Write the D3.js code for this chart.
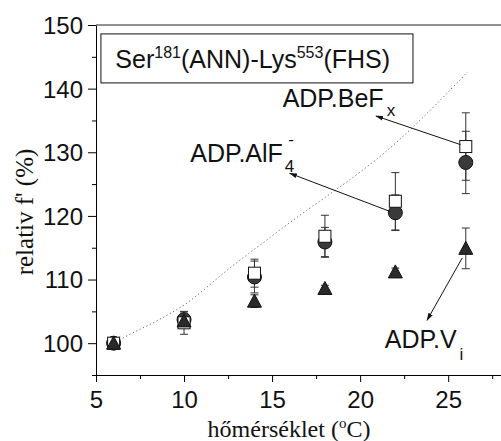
<!DOCTYPE html>
<html>
<head>
<meta charset="utf-8">
<script src="https://cdn.jsdelivr.net/npm/d3@7"></script>
<style>
  body { margin: 0; background: #fff; }
  svg { display: block; }
  .tick text { font-family: "Liberation Sans", Arial, sans-serif; }
</style>
</head>
<body>
<div id="chart"></div>
<script>
// data
var temps = [6, 10, 14, 18, 22, 26];
var befx = [100, 103.2, 111.0, 116.8, 122.3, 130.9];      // open squares
var befxErr = [0.5, 1.8, 2.2, 3.3, 4.5, 5.3];
var alf4 = [100, 103.7, 110.4, 115.9, 120.5, 128.4];      // filled circles
var alf4Err = [0.6, 1.2, 2.5, 2.3, 2.8, 4.9];
var vi = [100, 103.5, 106.6, 108.6, 111.2, 114.9];        // filled triangles
var viErr = [0.4, 0.8, 1.0, 0.5, 0.6, 3.2];
// dotted guide curve
var curveX = [5.6, 6.4, 8.45, 10, 12.6, 15.45, 22.2, 26.1];
var curveY = [99.2, 100.6, 103.5, 106, 111.8, 117.8, 131.9, 142.6];
var xTicks = [5, 10, 15, 20, 25];
var yTicks = [100, 110, 120, 130, 140, 150];

// set the dimensions and margins of the graph
var margin = {top: 25, right: 0, bottom: 66, left: 96},
  width = 501 - margin.left - margin.right,
  height = 441 - margin.top - margin.bottom;

var svg = d3.select("#chart")
  .append("svg")
    .attr("width", 501)
    .attr("height", 441)
  .append("g")
    .attr("transform", "translate(" + margin.left + "," + margin.top + ")");

var x = d3.scaleLinear().domain([5, 28]).range([0, width]);
var y = d3.scaleLinear().domain([95, 150]).range([height, 0]);

// minor ticks first
svg.append("g")
  .attr("transform", "translate(0," + height + ")")
  .call(d3.axisBottom(x).tickValues(d3.range(7.5, 28, 5)).tickSize(4).tickFormat(""))
  .call(function(g) { g.select(".domain").remove(); });
svg.append("g")
  .call(d3.axisLeft(y).tickValues(d3.range(95, 150, 10)).tickSize(4).tickFormat(""))
  .call(function(g) { g.select(".domain").remove(); });

// major axes
svg.append("g")
  .attr("transform", "translate(0," + height + ")")
  .call(d3.axisBottom(x).tickValues(xTicks).tickSize(7).tickSizeOuter(0).tickPadding(9))
  .call(function(g) {
    g.selectAll("text").style("font-size", "24px").attr("fill", "#111");
  });
svg.append("g")
  .call(d3.axisLeft(y).tickValues(yTicks).tickSize(8).tickSizeOuter(0).tickPadding(5))
  .call(function(g) {
    g.selectAll("text").style("font-size", "24px").attr("fill", "#111").attr("dy", "0.35em");
  });

// top frame line
svg.append("line")
  .attr("x1", 0).attr("x2", width)
  .attr("y1", 0).attr("y2", 0)
  .attr("stroke", "#222");

// dotted curve
var curvePts = curveX.map(function(v, i) { return [v, curveY[i]]; });
svg.append("path")
  .datum(curvePts)
  .attr("fill", "none")
  .attr("stroke", "#666")
  .attr("stroke-width", 1)
  .attr("stroke-dasharray", "1.2,2.6")
  .attr("d", d3.line().x(function(d) { return x(d[0]); }).y(function(d) { return y(d[1]); }).curve(d3.curveMonotoneX));

// error bars
function errorBars(vals, errs) {
  var g = svg.append("g").attr("stroke", "#333").attr("stroke-width", 1);
  temps.forEach(function(t, i) {
    var cx = x(t), lo = y(vals[i] - errs[i]), hi = y(vals[i] + errs[i]);
    g.append("line").attr("x1", cx).attr("x2", cx).attr("y1", lo).attr("y2", hi);
    g.append("line").attr("x1", cx - 4).attr("x2", cx + 4).attr("y1", lo).attr("y2", lo);
    g.append("line").attr("x1", cx - 4).attr("x2", cx + 4).attr("y1", hi).attr("y2", hi);
  });
}
errorBars(befx, befxErr);
errorBars(alf4, alf4Err);
errorBars(vi, viErr);

// circles
svg.selectAll(".circ")
  .data(alf4)
  .enter()
  .append("circle")
    .attr("cx", function(d, i) { return x(temps[i]); })
    .attr("cy", function(d) { return y(d); })
    .attr("r", 7)
    .attr("fill", "#3a3a3a")
    .attr("stroke", "#111");

// squares
svg.selectAll(".sq")
  .data(befx)
  .enter()
  .append("rect")
    .attr("x", function(d, i) { return x(temps[i]) - 6; })
    .attr("y", function(d) { return y(d) - 6; })
    .attr("width", 12)
    .attr("height", 12)
    .attr("fill", "#fff")
    .attr("stroke", "#111");

// triangles
svg.selectAll(".tri")
  .data(vi)
  .enter()
  .append("path")
    .attr("transform", function(d, i) { return "translate(" + x(temps[i]) + "," + y(d) + ")"; })
    .attr("d", "M0,-7L7,6L-7,6Z")
    .attr("fill", "#2a2a2a")
    .attr("stroke", "#111");

// arrow marker
svg.append("defs").append("marker")
  .attr("id", "arrow")
  .attr("viewBox", "0 0 10 10")
  .attr("refX", 9).attr("refY", 5)
  .attr("markerWidth", 8).attr("markerHeight", 8)
  .attr("orient", "auto")
  .append("path")
    .attr("d", "M0,2L10,5L0,8Z")
    .attr("fill", "#111");

// annotation arrows: [fromX, fromY, toX, toY] in data units
var arrows = [
  [25.7, 131.2, 20.9, 135.7],
  [21.7, 120.7, 16.0, 126.7],
  [25.8, 113.4, 23.8, 103.6]
];
arrows.forEach(function(a) {
  svg.append("line")
    .attr("x1", x(a[0])).attr("y1", y(a[1]))
    .attr("x2", x(a[2])).attr("y2", y(a[3]))
    .attr("stroke", "#111")
    .attr("stroke-width", 1)
    .attr("marker-end", "url(#arrow)");
});

var lab = "Liberation Sans, Arial, sans-serif";

// ADP.BeFx
var t1 = svg.append("text")
  .attr("x", x(15.6)).attr("y", y(137.1))
  .style("font-family", lab).style("font-size", "25px").attr("fill", "#111");
t1.append("tspan").text("ADP.BeF");
t1.append("tspan").attr("dx", 3).attr("dy", 9).style("font-size", "17px").text("x");

// ADP.AlF4-
var t2 = svg.append("text")
  .attr("x", x(10.35)).attr("y", y(128.5))
  .style("font-family", lab).style("font-size", "25px").attr("fill", "#111");
t2.append("tspan").text("ADP.AlF");
t2.append("tspan").attr("dx", 2).attr("dy", 10).style("font-size", "17px").text("4");
t2.append("tspan").attr("dx", -6).attr("dy", -27).style("font-size", "17px").text("-");

// ADP.Vi
var t3 = svg.append("text")
  .attr("x", x(21.4)).attr("y", y(99.2))
  .style("font-family", lab).style("font-size", "25px").attr("fill", "#111");
t3.append("tspan").text("ADP.V");
t3.append("tspan").attr("dx", 3).attr("dy", 12).style("font-size", "17px").text("i");

// title box
svg.append("rect")
  .attr("x", x(5.28)).attr("y", y(148.6))
  .attr("width", x(23.0) - x(5.28))
  .attr("height", y(140.9) - y(148.6))
  .attr("fill", "#fff")
  .attr("stroke", "#111");
var tb = svg.append("text")
  .attr("x", x(6.1)).attr("y", y(143.2))
  .style("font-family", lab).style("font-size", "25px").attr("fill", "#111");
tb.append("tspan").text("Ser");
tb.append("tspan").attr("dy", -10).style("font-size", "16px").text("181");
tb.append("tspan").attr("dy", 10).text("(ANN)-Lys");
tb.append("tspan").attr("dy", -10).style("font-size", "16px").text("553");
tb.append("tspan").attr("dy", 10).text("(FHS)");

// axis titles
var xt = svg.append("text")
  .attr("x", 289 - margin.left).attr("y", 437 - margin.top)
  .attr("text-anchor", "middle")
  .style("font-family", "Liberation Serif, Times New Roman, serif")
  .style("font-size", "24px").attr("fill", "#111");
xt.append("tspan").text("hőmérséklet (");
xt.append("tspan").attr("dy", -9).style("font-size", "15px").text("o");
xt.append("tspan").attr("dy", 9).text("C)");

svg.append("text")
  .attr("transform", "translate(" + (33 - margin.left) + "," + (212 - margin.top) + ") rotate(-90)")
  .attr("text-anchor", "middle")
  .style("font-family", "Liberation Serif, Times New Roman, serif")
  .style("font-size", "25px").attr("fill", "#111")
  .text("relativ f' (%)");
</script>
</body>
</html>
